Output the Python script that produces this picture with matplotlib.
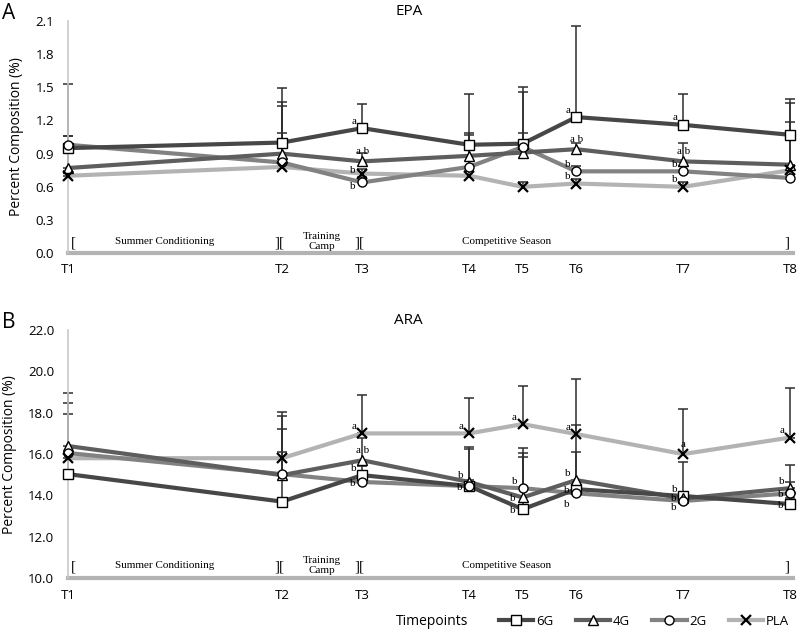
import numpy as np
import matplotlib
matplotlib.use("Agg")
import matplotlib.pyplot as plt
import matplotlib.transforms as mtrans
from matplotlib.lines import Line2D

# ---------------- data ----------------
timepoints = ["T1", "T2", "T3", "T4", "T5", "T6", "T7", "T8"]
# weeks-ish spacing of the sampling points
tp_pos = [0, 4, 5.5, 7.5, 8.5, 9.5, 11.5, 13.5]
groups = ["6G", "4G", "2G", "PLA"]

epa_6g = [0.95, 1.00, 1.13, 0.98, 0.99, 1.23, 1.16, 1.07]
epa_4g = [0.77, 0.90, 0.83, 0.88, 0.91, 0.94, 0.83, 0.80]
epa_2g = [0.98, 0.82, 0.64, 0.78, 0.96, 0.74, 0.74, 0.68]
epa_pla = [0.70, 0.78, 0.72, 0.70, 0.60, 0.63, 0.60, 0.75]
epa_sd_6g = [0.58, 0.49, 0.22, 0.46, 0.51, 0.82, 0.28, 0.32]
epa_sd_4g = [0.29, 0.43, 0.08, 0.21, 0.55, 0.06, 0.17, 0.56]
epa_sd_2g = [0.08, 0.55, 0.05, 0.29, 0.13, 0.05, 0.05, 0.51]
epa_sd_pla = [0.04, 0.31, 0.04, 0.04, 0.04, 0.04, 0.04, 0.04]

ara_6g = [15.03, 13.70, 14.98, 14.45, 13.33, 14.30, 13.97, 13.58]
ara_4g = [16.39, 14.98, 15.70, 14.65, 13.90, 14.74, 13.85, 14.35]
ara_2g = [16.05, 15.03, 14.65, 14.45, 14.35, 14.10, 13.73, 14.10]
ara_pla = [15.80, 15.80, 17.00, 17.00, 17.45, 16.97, 16.00, 16.80]
ara_sd_6g = [2.90, 2.40, 0.45, 0.30, 2.52, 1.80, 1.63, 0.30]
ara_sd_4g = [2.56, 2.86, 1.07, 1.69, 2.39, 2.66, 0.30, 0.30]
ara_sd_2g = [2.42, 2.17, 0.30, 1.79, 1.70, 0.30, 0.30, 1.37]
ara_sd_pla = [0.20, 2.23, 1.85, 1.71, 1.84, 2.66, 2.18, 2.40]

# significance letters: (group index, timepoint index, letter, placement)
epa_letters = [
    (0, 2, "a", "ul"), (1, 2, "a b", "up"), (3, 2, "b", "lu"), (2, 2, "b", "ld"),
    (0, 5, "a", "ul"), (1, 5, "a b", "up"), (2, 5, "b", "ul"), (3, 5, "b", "ul"),
    (0, 6, "a", "ul"), (1, 6, "a b", "up"), (2, 6, "b", "ul"), (3, 6, "b", "ul"),
]
ara_letters = [
    (3, 2, "a", "ul"), (1, 2, "a b", "up"), (0, 2, "b", "ul"), (2, 2, "b", "l"),
    (3, 3, "a", "ul"), (1, 3, "b", "ul"), (2, 3, "b", "l"),
    (3, 4, "a", "ul"), (2, 4, "b", "ul"), (1, 4, "b", "l"), (0, 4, "b", "l"),
    (3, 5, "a", "ul"), (1, 5, "b", "ul"), (0, 5, "b", "l"), (2, 5, "b", "dl"),
    (3, 6, "a", "up"), (0, 6, "b", "ul"), (2, 6, "b", "lu"), (0, 6, "b", "dl"),
    (3, 7, "a", "ul"), (1, 7, "b", "ul"), (2, 7, "b", "l"), (0, 7, "b", "l"),
]

# study phases
phase_text = ["Summer Conditioning", "Training\nCamp", "Competitive Season"]
phase_x = [1.8, 4.75, 8.2]
bracket_text = ["[", "][", "][", "]"]
bracket_x = [0.1, 3.95, 5.45, 13.45]

# ---------------- style ----------------
colors = ["#474747", "#5e5e5e", "#828282", "#b3b3b3"]
markers = ["s", "^", "o", "x"]
err_color = "#2e2e2e"
sans = "Open Sans"
serif = "Liberation Serif"

fig = plt.figure(figsize=(8, 6.3), dpi=100)
ax1 = fig.add_axes([0.085, 0.598, 0.906, 0.369])
ax2 = fig.add_axes([0.085, 0.0825, 0.906, 0.3935])

offsets = {"ul": (-6, 5), "up": (0, 7), "l": (-7, -1), "lu": (-7, 2),
           "ld": (-7, -3), "dl": (-7, -8)}


def draw_panel(ax, series, sds, letters, ylim, yticks, fmt, title):
    x = np.array(tp_pos)
    for i in range(4):
        y = np.array(series[i])
        ax.errorbar(x, y, yerr=[np.zeros(len(y)), np.array(sds[i])], fmt="none",
                    ecolor=err_color, elinewidth=1.1, capsize=3.5, capthick=1.1,
                    zorder=2 + i * 0.01, clip_on=False)
    for i in range(3, -1, -1):
        y = series[i]
        ax.plot(x, y, color=colors[i], lw=3, zorder=3 + (3 - i) * 0.1, clip_on=False)
    for i in range(4):
        y = series[i]
        if markers[i] == "x":
            ax.plot(x, y, ls="none", marker="x", ms=7, mew=1.6, color="black",
                    zorder=5, clip_on=False)
        else:
            ax.plot(x, y, ls="none", marker=markers[i], ms=6.5, mfc="white",
                    mec="black", mew=1.0, zorder=5, clip_on=False)
    for gi, ti, txt, where in letters:
        dx, dy = offsets[where]
        ax.annotate(txt, (tp_pos[ti], series[gi][ti]), xytext=(dx, dy),
                    textcoords="offset points", ha="center", va="center",
                    fontsize=8, family=serif, zorder=6)

    ax.set_xlim(0, 13.55)
    ax.set_ylim(*ylim)
    ax.set_yticks(yticks)
    ax.set_yticklabels([fmt.format(v) for v in yticks], family=sans, fontsize=9.5)
    ax.tick_params(axis="y", length=0, pad=10)
    ax.set_xticks([])
    for s in ["top", "right", "bottom"]:
        ax.spines[s].set_visible(False)
    ax.spines["left"].set_color("#c8c8c8")
    ax.spines["left"].set_linewidth(1.2)
    ax.axhline(ylim[0], xmin=0, xmax=1, color="#b3b3b3", lw=3, zorder=1, clip_on=False)
    ax.set_ylabel("Percent Composition (%)", family=sans, fontsize=10, labelpad=8)

    tr = mtrans.blended_transform_factory(ax.transData, ax.transAxes)
    for xp, t in zip(bracket_x, bracket_text):
        ax.text(xp, 0.045, t, transform=tr, family=serif, fontsize=11,
                ha="center", va="center")
    for xp, t in zip(phase_x, phase_text):
        ax.text(xp, 0.05, t, transform=tr, family=serif, fontsize=8,
                ha="center", va="center", linespacing=1.1)
    for xp, t in zip(tp_pos, timepoints):
        ax.text(xp, -0.07, t, transform=tr, family=sans, fontsize=9.5,
                ha="center", va="center")

    ax.text(0.47, 1.04, title, transform=ax.transAxes, family=sans, fontsize=11,
            ha="center", va="center")


draw_panel(ax1, [epa_6g, epa_4g, epa_2g, epa_pla],
           [epa_sd_6g, epa_sd_4g, epa_sd_2g, epa_sd_pla], epa_letters,
           (0, 2.1), np.arange(0, 2.11, 0.3), "{:.1f}", "EPA")
draw_panel(ax2, [ara_6g, ara_4g, ara_2g, ara_pla],
           [ara_sd_6g, ara_sd_4g, ara_sd_2g, ara_sd_pla], ara_letters,
           (10, 22), np.arange(10, 22.1, 2), "{:.1f}", "ARA")

fig.text(0.002, 0.978, "A", family=sans, fontsize=15, ha="left", va="center")
fig.text(0.002, 0.488, "B", family=sans, fontsize=15, ha="left", va="center")
fig.text(0.54, 0.013, "Timepoints", family=sans, fontsize=10, ha="center", va="center")

handles = []
for i in range(4):
    if markers[i] == "x":
        h = Line2D([], [], color=colors[i], lw=3, marker="x", ms=7, mew=1.6,
                   mec="black")
    else:
        h = Line2D([], [], color=colors[i], lw=3, marker=markers[i], ms=6.5,
                   mfc="white", mec="black")
    handles.append(h)
fig.legend(handles, groups, loc="center", bbox_to_anchor=(0.805, 0.014), ncol=4,
           frameon=False, prop={"family": sans, "size": 9.5}, handlelength=2.6,
           handletextpad=0.2, columnspacing=1.7)

fig.savefig("out.png", dpi=100)
